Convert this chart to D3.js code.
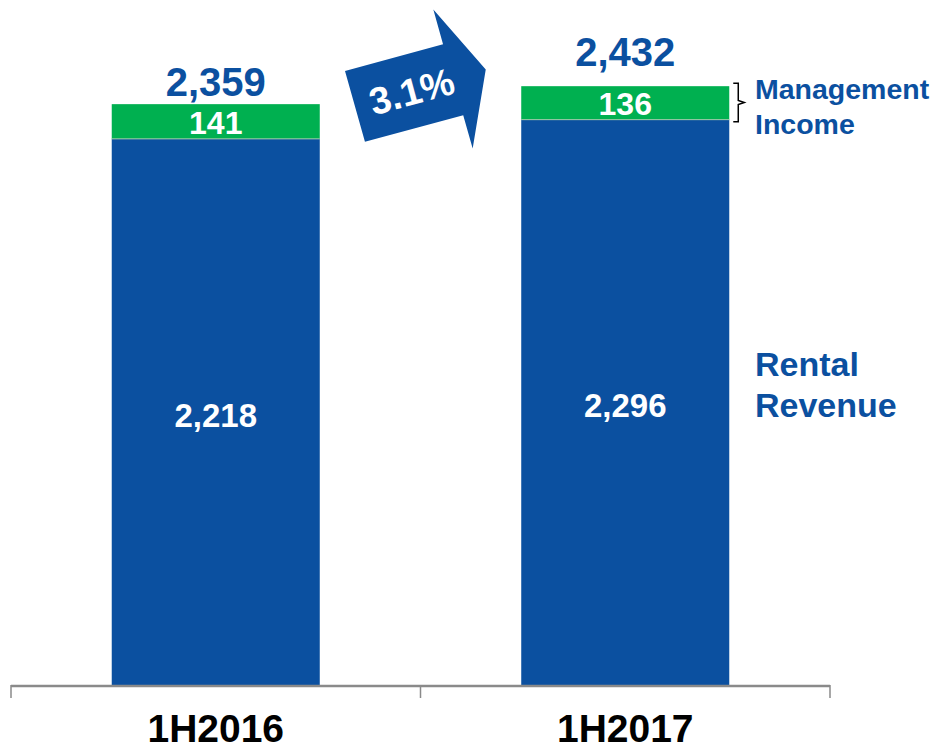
<!DOCTYPE html>
<html>
<head>
<meta charset="utf-8">
<script src="https://cdn.jsdelivr.net/npm/d3@7"></script>
<style>
  html, body { margin: 0; padding: 0; background: #fff; }
  svg { display: block; font-family: Arial, "Liberation Sans", sans-serif; font-weight: bold; }
</style>
</head>
<body>
<div id="chart"></div>
<script>
"use strict";

// data
var periods = ["1H2016", "1H2017"];
var rentalRevenue = [2218, 2296];
var managementIncome = [141, 136];
var totals = [2359, 2432];
var growthLabel = "3.1%";
var seriesNames = ["Rental Revenue", "Management Income"];

var blue = "#0B50A0",
  green = "#00B050",
  gray = "#8a8a8a";

var width = 935,
  height = 751;

var svg = d3
  .select("#chart")
  .append("svg")
  .attr("width", width)
  .attr("height", height);

// category bands span tick to tick, bars sit in the middle
var x = d3
  .scaleBand()
  .domain(periods)
  .range([11, 830])
  .padding(0);

var barW = x.bandwidth() * 0.508;

var y = d3
  .scaleLinear()
  .domain([0, 2782])
  .range([685, 0]);

var rows = periods.map(function(p, i) {
  return {
    period: p,
    rental: rentalRevenue[i],
    mgmt: managementIncome[i],
    total: totals[i]
  };
});

function barX(d) {
  return x(d.period) + (x.bandwidth() - barW) / 2;
}
function midX(d) {
  return x(d.period) + x.bandwidth() / 2;
}

var bars = svg
  .selectAll("g.bar")
  .data(rows)
  .enter()
  .append("g")
  .attr("class", "bar");

// rental revenue (bottom segment)
bars
  .append("rect")
  .attr("x", barX)
  .attr("width", barW)
  .attr("y", function(d) {
    return y(d.rental);
  })
  .attr("height", function(d) {
    return y(0) - y(d.rental);
  })
  .style("fill", blue);

// management income (top segment)
bars
  .append("rect")
  .attr("x", barX)
  .attr("width", barW)
  .attr("y", function(d) {
    return y(d.rental + d.mgmt);
  })
  .attr("height", function(d) {
    return y(d.rental) - y(d.rental + d.mgmt);
  })
  .style("fill", green);

// thin light seam between segments
bars
  .append("line")
  .attr("x1", barX)
  .attr("x2", function(d) {
    return barX(d) + barW;
  })
  .attr("y1", function(d) {
    return y(d.rental);
  })
  .attr("y2", function(d) {
    return y(d.rental);
  })
  .style("stroke", "#9fc9a8")
  .style("stroke-width", 1);

var fmt = d3.format(",");

bars
  .append("text")
  .attr("x", midX)
  .attr("y", function(d) {
    return (y(d.rental) + y(0)) / 2 + 15;
  })
  .attr("text-anchor", "middle")
  .style("fill", "#fff")
  .style("font-size", "33px")
  .text(function(d) {
    return fmt(d.rental);
  });

bars
  .append("text")
  .attr("x", midX)
  .attr("y", function(d) {
    return (y(d.rental) + y(d.rental + d.mgmt)) / 2 + 12.5;
  })
  .attr("text-anchor", "middle")
  .style("fill", "#fff")
  .style("font-size", "32px")
  .text(function(d) {
    return fmt(d.mgmt);
  });

var totalGap = [8, 20];
bars
  .append("text")
  .attr("x", midX)
  .attr("y", function(d, i) {
    return y(d.total) - totalGap[i];
  })
  .attr("text-anchor", "middle")
  .style("fill", blue)
  .style("font-size", "40px")
  .text(function(d) {
    return fmt(d.total);
  });

// category axis: baseline with boundary ticks
var axis = svg.append("g");
axis
  .append("line")
  .attr("x1", x.range()[0])
  .attr("x2", x.range()[1])
  .attr("y1", y(0) + 1)
  .attr("y2", y(0) + 1)
  .style("stroke", gray)
  .style("stroke-width", 2.5);

var tickXs = periods.map(function(p) {
  return x(p);
});
tickXs.push(x.range()[1]);
axis
  .selectAll("line.tick")
  .data(tickXs)
  .enter()
  .append("line")
  .attr("class", "tick")
  .attr("x1", function(d) {
    return d;
  })
  .attr("x2", function(d) {
    return d;
  })
  .attr("y1", y(0))
  .attr("y2", y(0) + 13)
  .style("stroke", gray)
  .style("stroke-width", 1.5);

axis
  .selectAll("text")
  .data(periods)
  .enter()
  .append("text")
  .attr("x", function(d) {
    return x(d) + x.bandwidth() / 2;
  })
  .attr("y", 742)
  .attr("text-anchor", "middle")
  .style("fill", "#000")
  .style("font-size", "39px")
  .text(function(d) {
    return d;
  });

// series labels on the right
var last = rows[rows.length - 1];
var lblX = 755;

var rr = svg
  .append("text")
  .attr("x", lblX)
  .attr("y", 376)
  .style("fill", blue)
  .style("font-size", "34px");
seriesNames[0].split(" ").forEach(function(w, i) {
  rr.append("tspan")
    .attr("x", lblX)
    .attr("dy", i ? 41 : 0)
    .text(w);
});

var mi = svg
  .append("text")
  .attr("x", lblX)
  .attr("y", 99)
  .style("fill", blue)
  .style("font-size", "28.5px");
seriesNames[1].split(" ").forEach(function(w, i) {
  mi.append("tspan")
    .attr("x", lblX)
    .attr("dy", i ? 35 : 0)
    .text(w);
});

// curly brace next to the management segment
var bx = barX(last) + barW + 4,
  bTop = y(last.total) - 3,
  bBot = y(last.rental) + 2,
  bMid = (bTop + bBot) / 2;
svg
  .append("path")
  .attr(
    "d",
    "M" + bx + "," + bTop +
      "H" + (bx + 5) +
      "V" + (bMid - 2) +
      "L" + (bx + 11) + "," + bMid +
      "L" + (bx + 5) + "," + (bMid + 2) +
      "V" + bBot +
      "H" + bx
  )
  .style("fill", "none")
  .style("stroke", "#000")
  .style("stroke-width", 1.5);

// growth arrow, drawn in its own frame then tilted
var arrowShape = [
  [0, 0],
  [101.6, 0],
  [101.4, -36.3],
  [136.2, 35.5],
  [102.9, 108.2],
  [102.5, 73.6],
  [0.7, 73.5]
];
var arrow = svg
  .append("g")
  .attr("transform", "translate(345,71) rotate(-15.2)");
arrow
  .append("path")
  .attr("d", d3.line()(arrowShape) + "Z")
  .style("fill", blue);
arrow
  .append("text")
  .attr("x", 59)
  .attr("y", 37 + 13.5)
  .attr("text-anchor", "middle")
  .style("fill", "#fff")
  .style("font-size", "38px")
  .text(growthLabel);
</script>
</body>
</html>
